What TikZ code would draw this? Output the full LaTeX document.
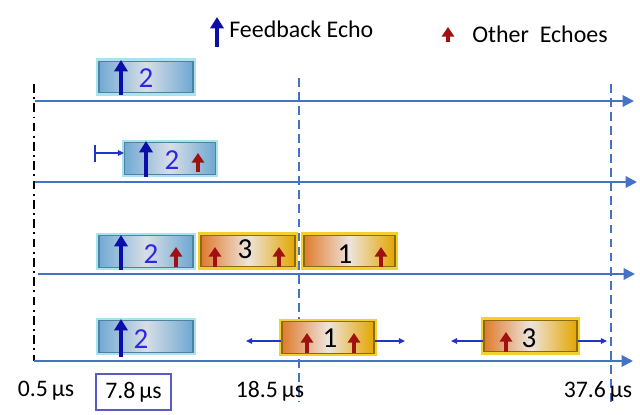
\documentclass[tikz,border=0pt]{standalone}
\usepackage{fontspec}
\setmainfont{Carlito}
\usetikzlibrary{arrows.meta,shadows}
\definecolor{axisblue}{HTML}{4472C4}
\definecolor{fbblue}{HTML}{0D0DAA}
\definecolor{numblue}{HTML}{2A2AE0}
\definecolor{echored}{HTML}{A01212}
\definecolor{bframe}{HTML}{A8E4EE}
\definecolor{bline}{HTML}{4F82A2}
\definecolor{bleft}{HTML}{72AAD4}
\definecolor{bmid}{HTML}{D8DEE6}
\definecolor{bright}{HTML}{6EA8D2}
\definecolor{gframe}{HTML}{F5D02A}
\definecolor{gline}{HTML}{8A6A12}
\definecolor{gleft}{HTML}{E07B2E}
\definecolor{gmid}{HTML}{EDE4DC}
\definecolor{gright}{HTML}{E3A600}
\definecolor{smallblue}{HTML}{2233C8}
\definecolor{tagline}{HTML}{5A5AC8}
\begin{document}
\begin{tikzpicture}[x=0.02cm,y=-0.02cm,
  boxbase/.style={minimum width=1.88cm, minimum height=0.63cm, inner sep=0pt,
    drop shadow={shadow xshift=0.6pt, shadow yshift=-1.6pt, opacity=0.25, fill=black!60}},
  bluebox/.style={boxbase, preaction={draw=bframe, line width=3.4pt},
    left color=bleft, right color=bright, middle color=bmid, draw=bline, line width=0.6pt},
  goldbox/.style={boxbase, preaction={draw=gframe, line width=3.6pt},
    left color=gleft, right color=gright, middle color=gmid, draw=gline, line width=0.6pt},
  axisline/.style={draw=axisblue, line width=1.2pt, -{Triangle[width=6.5pt,length=6.5pt]}},
  vdash/.style={draw=axisblue, line width=1.1pt, dash pattern=on 5pt off 3pt},
  fbarrow/.style={draw=fbblue, line width=2.3pt, -{Triangle[width=7.5pt,length=6.5pt]}},
  redarrow/.style={draw=echored, line width=2.2pt, -{Triangle[width=7pt,length=5.5pt]}},
  thinarrow/.style={draw=smallblue, line width=0.6pt, -{Triangle[width=3.2pt,length=3.5pt]}},
  digb/.style={text=numblue, font=\fontsize{16.5}{18}\selectfont, inner sep=0pt},
  digk/.style={text=black, font=\fontsize{16.5}{18}\selectfont, inner sep=0pt},
  tlabel/.style={font=\fontsize{13.5}{15}\selectfont, inner sep=0pt},
  legtext/.style={font=\fontsize{13.6}{15}\selectfont, inner sep=0pt, anchor=west}]
\useasboundingbox (0,0) rectangle (640,415);

% legend
\coordinate (lfb0) at (217,47);
\coordinate (lfb1) at (217,17);
\draw[fbarrow] (lfb0) -- (lfb1);
\node[legtext] (lfb) at (229,29) {Feedback Echo};
\coordinate (lre0) at (448,42);
\coordinate (lre1) at (448,27);
\draw[redarrow] (lre0) -- (lre1);
\node[legtext] (lre) at (472,34) {Other\ \ Echoes};

% vertical reference lines
\coordinate (v1t) at (299,78);
\coordinate (v1b) at (299,402);
\coordinate (v2t) at (611,84);
\coordinate (v2b) at (611,402);
\draw[vdash] (v1t) -- (v1b);
\draw[vdash] (v2t) -- (v2b);

% dash-dot start line
\coordinate (s0) at (34,84);
\coordinate (s1) at (34,361);
\draw[black, line width=1.3pt, dash pattern=on 5pt off 2.5pt on 1pt off 2.5pt] (s0) -- (s1);

% axes
\coordinate (a1s) at (35,101);  \coordinate (a1e) at (634,101);
\coordinate (a2s) at (35,182);  \coordinate (a2e) at (637,182);
\coordinate (a3s) at (38,274);  \coordinate (a3e) at (635,274);
\coordinate (a4s) at (34,361);  \coordinate (a4e) at (633,361);
\draw[axisline] (a1s) -- (a1e);
\draw[axisline] (a2s) -- (a2e);
\draw[axisline] (a3s) -- (a3e);
\draw[axisline] (a4s) -- (a4e);

% row 1
\node[bluebox] (r1b2) at (146,77) {};
\draw[fbarrow] (121,95) -- (121,60);
\node[digb] (r1t2) at (146,78) {2};

% row 2
\node[bluebox, minimum width=1.82cm] (r2b2) at (170,158.5) {};
\draw[fbarrow] (146,177) -- (146,141);
\node[digb] (r2t2) at (172,160) {2};
\draw[redarrow] (198,172) -- (198,153);
\coordinate (t2) at (95,153);
\coordinate (t2a) at (95,145);
\coordinate (t2b) at (95,162);
\draw[smallblue, line width=0.6pt] (t2a) -- (t2b);
\draw[thinarrow] (t2) -- (t2 -| r2b2.west);

% row 3
\node[bluebox] (r3b2) at (146,251.5) {};
\draw[fbarrow] (121,270) -- (121,235);
\node[digb] (r3t2) at (151,254) {2};
\draw[redarrow] (176,267) -- (176,247);
\node[goldbox] (r3b3) at (248,251) {};
\draw[redarrow] (215,267) -- (215,247);
\draw[redarrow] (279,267) -- (279,247);
\node[digk] (r3t3) at (245,249) {3};
\node[goldbox, minimum width=1.82cm] (r3b1) at (349.5,251) {};
\node[digk] (r3t1) at (345,254) {1};
\draw[redarrow] (381,267) -- (381,247);

% row 4
\node[bluebox] (r4b2) at (146,336.5) {};
\draw[fbarrow] (121,357) -- (121,319);
\node[digb] (r4t2) at (141,339) {2};
\node[goldbox, minimum width=1.84cm] (r4b1) at (328,337.5) {};
\draw[redarrow] (307,353) -- (307,333);
\draw[redarrow] (354,353) -- (354,333);
\node[digk] (r4t1) at (330,338) {1};
\node[goldbox, minimum width=1.86cm] (r4b3) at (530.5,336) {};
\draw[redarrow] (506,352) -- (506,332);
\node[digk] (r4t3) at (529,338) {3};
\coordinate (m1l) at (246,341);
\coordinate (m1r) at (405,341);
\coordinate (m3l) at (451,341);
\coordinate (m3r) at (607,341);
\draw[thinarrow] (m1l -| r4b1.west) -- (m1l);
\draw[thinarrow] (m1r -| r4b1.east) -- (m1r);
\draw[thinarrow] (m3l -| r4b3.west) -- (m3l);
\draw[thinarrow] (m3r -| r4b3.east) -- (m3r);

% time labels
\node[tlabel] (l05) at (46,391) {0.5\,µs};
\node[tlabel, draw=tagline, line width=0.6pt, minimum width=1.5cm, minimum height=0.72cm] (l78) at (133.5,392) {7.8\,µs};
\node[tlabel] (l185) at (270,391) {18.5\,µs};
\node[tlabel] (l376) at (598,391) {37.6\,µs};
\end{tikzpicture}
\end{document}
